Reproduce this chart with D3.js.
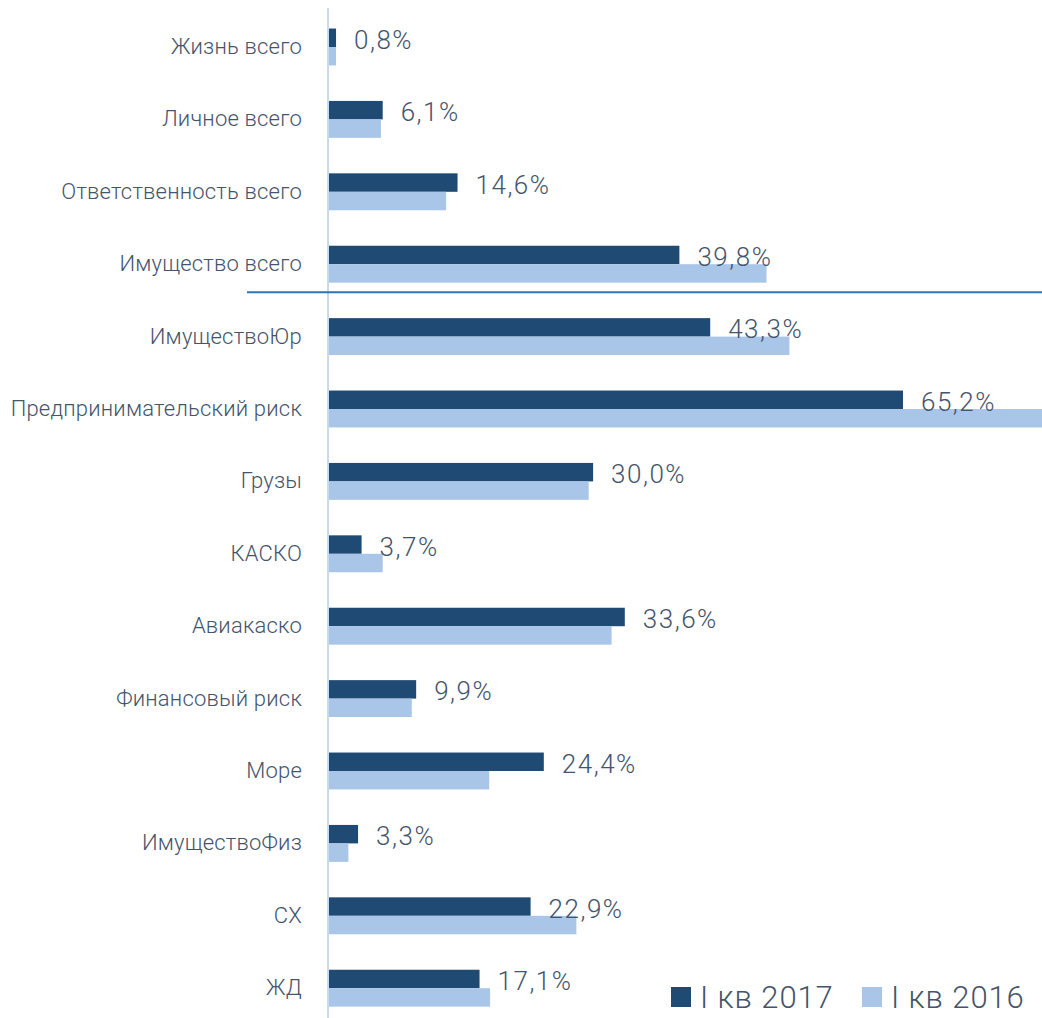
<!DOCTYPE html>
<html>
<head>
<meta charset="utf-8">
<script src="https://cdn.jsdelivr.net/npm/d3@7"></script>
<style>
  body { margin: 0; background: #fff; }
  svg text { font-family: Roboto, "DejaVu Sans", sans-serif; font-weight: 300; }
</style>
</head>
<body>
<svg id="chart" width="1042" height="1018"></svg>
<script>
const categories = ["Жизнь всего", "Личное всего", "Ответственность всего", "Имущество всего",
    "ИмуществоЮр", "Предпринимательский риск", "Грузы", "КАСКО", "Авиакаско",
    "Финансовый риск", "Море", "ИмуществоФиз", "СХ", "ЖД"];
const series = ["I кв 2017", "I кв 2016"];
const values2017 = [0.8, 6.1, 14.6, 39.8, 43.3, 65.2, 30.0, 3.7, 33.6, 9.9, 24.4, 3.3, 22.9, 17.1];
const values2016 = [0.8, 5.9, 13.3, 49.7, 52.3, 81.5, 29.5, 6.1, 32.1, 9.4, 18.2, 2.2, 28.1, 18.3];
const colors = ["#1f4a73", "#a9c6e8"];

const svg = d3.select("#chart");
const width = 1042;
const height = 1018;
const axisX = 328;

const x = d3.scaleLinear().domain([0, 65.2]).range([axisX + 1, 903]);
const y = d3.scaleBand().domain(categories).range([10.8, 1024.4])
    .paddingInner(0.49).paddingOuter(0.245);
const ySub = d3.scaleBand().domain(series).range([0, y.bandwidth()]);

svg.append("defs").append("clipPath").attr("id", "clip")
    .append("rect").attr("x", 0).attr("y", 0).attr("width", width).attr("height", height);

const rows = categories.map((c, i) => ({ cat: c, vals: [values2017[i], values2016[i]] }));

const plot = svg.append("g").attr("clip-path", "url(#clip)");

// бари
const groups = plot.selectAll("g.row").data(rows).join("g")
    .attr("class", "row")
    .attr("transform", d => `translate(0,${y(d.cat)})`);

groups.selectAll("rect").data(d => d.vals.map((v, j) => ({ v: v, s: series[j], j: j }))).join("rect")
    .attr("x", x(0))
    .attr("y", d => ySub(d.s))
    .attr("width", d => x(d.v) - x(0))
    .attr("height", ySub.bandwidth())
    .attr("fill", d => colors[d.j]);

// вісь
svg.append("line")
    .attr("x1", axisX).attr("x2", axisX)
    .attr("y1", 8).attr("y2", height)
    .attr("stroke", "#c6d9f1")
    .attr("stroke-width", 2);

const axis = svg.append("g")
    .attr("transform", `translate(${axisX},0)`)
    .call(d3.axisLeft(y).tickSize(0).tickPadding(26));
axis.select(".domain").remove();
axis.selectAll("text")
    .attr("font-size", "22px")
    .attr("letter-spacing", "0.2px")
    .attr("fill", "#44546a")
    .style("font-family", "Roboto, sans-serif")
    .style("font-weight", 300)
    .attr("dy", "0.32em");

// розділова лінія
const sepY = y("ИмуществоЮр") - 26;
svg.append("line")
    .attr("x1", 247).attr("x2", width)
    .attr("y1", sepY).attr("y2", sepY)
    .attr("stroke", "#2e75b6")
    .attr("stroke-width", 2);

// підписи значень
svg.selectAll("text.val").data(rows).join("text")
    .attr("class", "val")
    .attr("x", d => x(d.vals[0]) + 18)
    .attr("y", d => y(d.cat) + ySub.bandwidth() / 2 + 2)
    .attr("dominant-baseline", "central")
    .attr("font-size", "26px")
    .attr("letter-spacing", "1.5px")
    .attr("fill", "#44546a")
    .text(d => d.vals[0].toFixed(1).replace(".", ",") + "%");

// легенда
const legendX = [671, 862];
const legend = svg.selectAll("g.legend").data(series).join("g")
    .attr("class", "legend")
    .attr("transform", (d, i) => `translate(${legendX[i]},987)`);
legend.append("rect")
    .attr("width", 20).attr("height", 20)
    .attr("fill", (d, i) => colors[i]);
legend.append("text")
    .attr("x", 29).attr("y", 10)
    .attr("dominant-baseline", "central")
    .attr("font-size", "31px")
    .attr("letter-spacing", "0.9px")
    .attr("fill", "#44546a")
    .text(d => d);
</script>
</body>
</html>
